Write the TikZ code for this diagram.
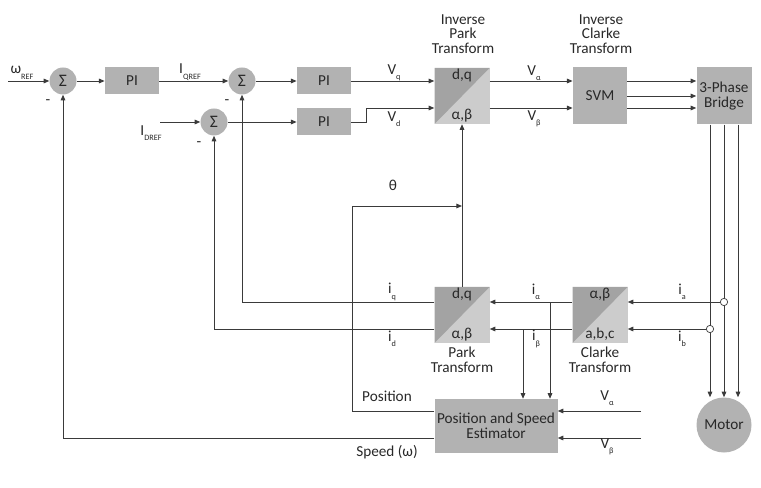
\documentclass[tikz,border=0pt]{standalone}
\usepackage{fontspec}
\setmainfont{Carlito}
\usetikzlibrary{arrows.meta}
\definecolor{blockgray}{RGB}{178,178,178}
\definecolor{darkhalf}{RGB}{163,163,163}
\definecolor{lighthalf}{RGB}{204,204,204}
\definecolor{wire}{RGB}{58,58,58}
\definecolor{ink}{RGB}{40,40,40}
\newcommand{\lowidx}[1]{\raisebox{-0.75ex}{\fontsize{7}{7}\selectfont #1}}
\tikzset{
  block/.style={fill=blockgray, minimum width=1.63cm, minimum height=0.81cm, inner sep=0pt, align=center, text=ink},
  tblock/.style={fill=lighthalf, minimum width=1.65cm, minimum height=1.68cm, inner sep=0pt,
    path picture={\fill[darkhalf] (path picture bounding box.south west) -- (path picture bounding box.north west) -- (path picture bounding box.north east) -- cycle;}},
  sumpt/.style={circle, fill=blockgray, minimum size=0.81cm, inner sep=0pt, text=ink, font=\fontsize{15}{15}\selectfont},
  sig/.style={wire, line width=0.8pt, -{Triangle[length=1.7mm,width=1.4mm]}},
  tap/.style={circle, draw=wire, fill=white, line width=0.6pt, minimum size=2.2mm, inner sep=0pt},
  lbl/.style={inner sep=0pt, text=ink, align=center}
}
\begin{document}
\begin{tikzpicture}[x=0.03cm,y=-0.03cm,font=\fontsize{13}{12.5}\selectfont]
  \useasboundingbox (0,0) rectangle (761,488);
  \node[sumpt] (s1) at (63,81) {Σ};
  \node[block] (pi1) at (132,81) {PI};
  \node[sumpt] (s2) at (242,81) {Σ};
  \node[block] (pi2) at (324,81) {PI};
  \node[sumpt] (s3) at (214,122) {Σ};
  \node[block] (pi3) at (324,122) {PI};
  \node[tblock] (ipark) at (462,96) {};
  \node[block, minimum height=1.71cm] (svm) at (600,96) {SVM};
  \node[block, minimum width=1.65cm, minimum height=1.71cm] (bridge) at (724,96) {3-Phase\\Bridge};
  \node[tblock] (clarke) at (600,315) {};
  \node[tblock] (park) at (462,315) {};
  \node[block, minimum width=3.69cm, minimum height=1.62cm] (est) at (496,426) {Position and Speed\\Estimator};
  \node[circle, fill=blockgray, minimum size=1.65cm, inner sep=0pt, text=ink] (motor) at (724,425) {Motor};
  \node[lbl, anchor=north] (iparkhi) at (ipark.north) [yshift=-1pt] {d,q};
  \node[lbl, anchor=south] (iparklo) at (ipark.south) [yshift=2pt] {α,β};
  \node[lbl, anchor=north] (clarkehi) at (clarke.north) [yshift=-1pt] {α,β};
  \node[lbl, anchor=south] (clarkelo) at (clarke.south) [yshift=2pt] {a,b,c};
  \node[lbl, anchor=north] (parkhi) at (park.north) [yshift=-1pt] {d,q};
  \node[lbl, anchor=south] (parklo) at (park.south) [yshift=2pt] {α,β};
  \node[lbl] (iparkt) at (463,34) {Inverse\\Park\\Transform};
  \node[lbl] (iclarket) at (601,34) {Inverse\\Clarke\\Transform};
  \node[lbl] (parkt) at (462,360) {Park\\Transform};
  \node[lbl] (clarket) at (600,360) {Clarke\\Transform};
  \coordinate (wref) at (8,81);
  \coordinate (idref) at (160,122);
  \coordinate (vdrow) at (0,108);
  \coordinate (tha) at (352,206);
  \coordinate (vain) at (641,411);
  \coordinate (vbin) at (641,438);
  \coordinate (ja) at (550,302);
  \coordinate (jb) at (523,329);
  \draw[sig] (wref) -- (s1);
  \draw[sig] (s1) -- (pi1);
  \draw[sig] (pi1) -- (s2);
  \draw[sig] (s2) -- (pi2);
  \draw[sig] (idref) -- (s3);
  \draw[sig] (s3) -- (pi3);
  \draw[sig] (pi2) -- (pi2 -| ipark.west);
  \draw[sig] (pi3.east) -- ++(15,0) |- (ipark.west |- vdrow);
  \draw[sig] (ipark.east |- pi2) -- (svm.west |- pi2);
  \draw[sig] (ipark.east |- vdrow) -- (svm.west |- vdrow);
  \draw[sig] (svm.east |- pi2) -- (bridge.west |- pi2);
  \draw[sig] (svm) -- (bridge);
  \draw[sig] (svm.east |- vdrow) -- (bridge.west |- vdrow);
  \draw[sig] ([xshift=-0.42cm]bridge.south) -- ([xshift=-0.42cm]bridge.south |- motor.north);
  \draw[sig] (bridge.south) -- (motor.north);
  \draw[sig] ([xshift=0.42cm]bridge.south) -- ([xshift=0.42cm]bridge.south |- motor.north);
  \node[tap] (tapa) at (724,302) {};
  \node[tap] (tapb) at (710,329) {};
  \draw[sig] (tapa) -- (clarke.east |- tapa);
  \draw[sig] (tapb) -- (clarke.east |- tapb);
  \draw[sig] (clarke.west |- tapa) -- (park.east |- tapa);
  \draw[sig] (clarke.west |- tapb) -- (park.east |- tapb);
  \draw[sig] (ja) -- (ja |- est.north);
  \draw[sig] (jb) -- (jb |- est.north);
  \draw[sig] (park.west |- tapa) -| (s2);
  \draw[sig] (park.west |- tapb) -| (s3);
  \draw[sig] (park) -- (ipark);
  \draw[sig] (est.west |- vain) -| (tha) -- (tha -| park);
  \draw[sig] (est.west |- vbin) -| (s1);
  \draw[sig] (vain) -- (vain -| est.east);
  \draw[sig] (vbin) -- (vbin -| est.east);
  \node[lbl] (wreft) at (22,73) {ω\lowidx{REF}};
  \node[lbl] (iqreft) at (190,72) {I\lowidx{QREF}};
  \node[lbl] (idreft) at (151,133) {I\lowidx{DREF}};
  \node[lbl] (m1) at (48,102) {-};
  \node[lbl] (m2) at (227,102) {-};
  \node[lbl] (m3) at (199,144) {-};
  \node[lbl] (vqt) at (394,73) {V\lowidx{q}};
  \node[lbl] (vdt) at (394,119) {V\lowidx{d}};
  \node[lbl] (vat) at (534,73) {V\lowidx{α}};
  \node[lbl] (vbt) at (534,119) {V\lowidx{β}};
  \node[lbl] (tht) at (393,185) {θ};
  \node[lbl] (iqt) at (392,292) {i\lowidx{q}};
  \node[lbl] (idt) at (392,339) {i\lowidx{d}};
  \node[lbl] (ialt) at (536,292) {i\lowidx{α}};
  \node[lbl] (ibet) at (536,339) {i\lowidx{β}};
  \node[lbl] (iat) at (682,292) {i\lowidx{a}};
  \node[lbl] (ibt) at (682,339) {i\lowidx{b}};
  \node[lbl] (post) at (387,396) {Position};
  \node[lbl] (spdt) at (387,452) {Speed (ω)};
  \node[lbl] (vaet) at (607,398) {V\lowidx{α}};
  \node[lbl] (vbet) at (607,447) {V\lowidx{β}};
\end{tikzpicture}
\end{document}
